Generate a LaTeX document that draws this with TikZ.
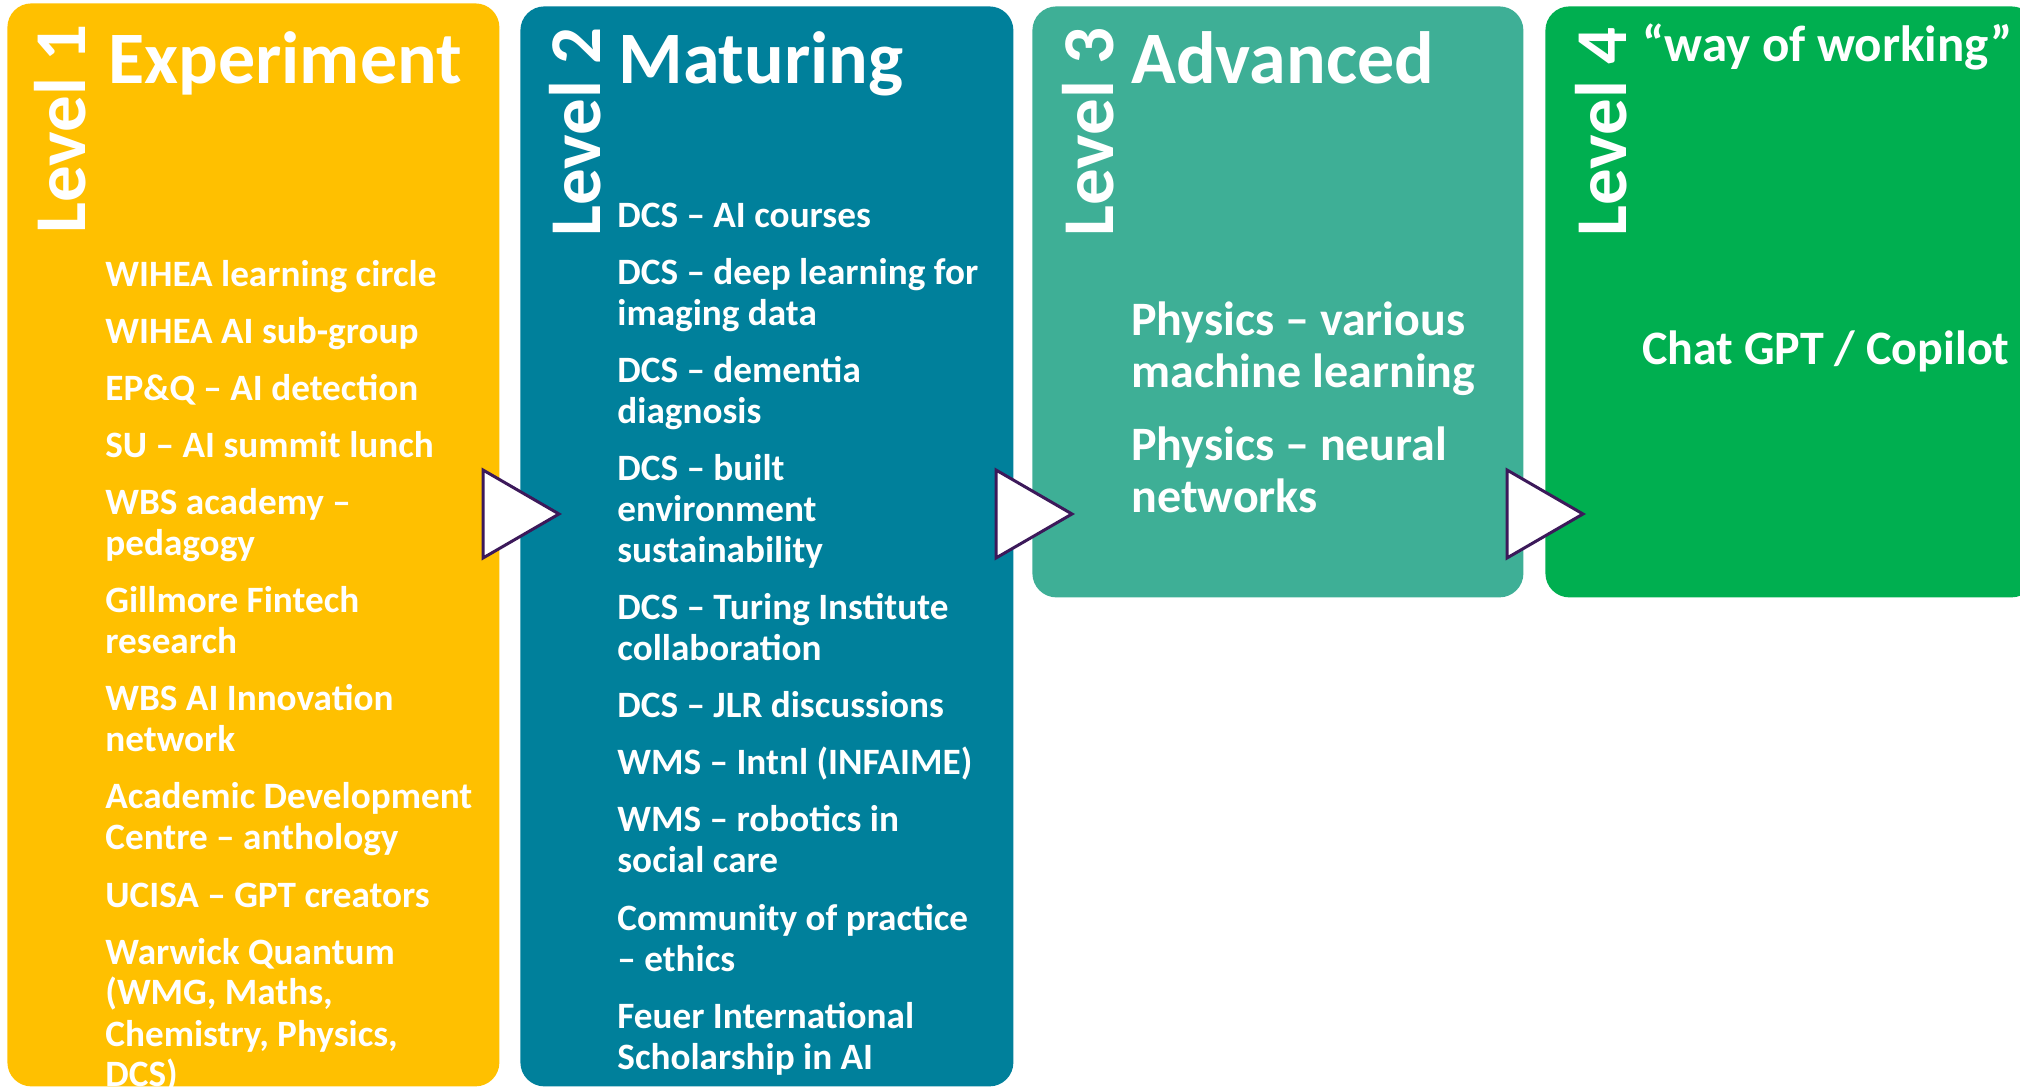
\documentclass[tikz,border=0pt]{standalone}
\usepackage{fontspec}
\setmainfont{Carlito}
\definecolor{lvlone}{RGB}{255,192,0}
\definecolor{lvltwo}{RGB}{0,128,155}
\definecolor{lvlthree}{RGB}{62,175,150}
\definecolor{lvlfour}{RGB}{0,175,80}
\definecolor{chevron}{RGB}{60,25,90}
% multi-line entry whose baseline is the baseline of its first line
\newcommand\entrylines[1]{\begin{tabular}[t]{@{}l@{}}#1\end{tabular}}
\begin{document}
\begin{tikzpicture}[x=0.5pt,y=-0.5pt,
  stage/.style={draw=none, rounded corners=12pt, inner sep=0, anchor=north west},
  levellabel/.style={rotate=90, anchor=base west, inner sep=0, text=white,
    font=\bfseries\fontsize{36.5}{40}\selectfont},
  heading/.style={anchor=base west, inner sep=0, text=white,
    font=\bfseries\fontsize{37}{40}\selectfont},
  lines/.style={anchor=base west, inner sep=0, text=white},
  item/.style={lines, font=\bfseries\fontsize{18.6}{20.5}\selectfont},
  bigitem/.style={lines, font=\bfseries\fontsize{24}{26}\selectfont},
  chev/.style={fill=white, draw=chevron, line width=1.5pt, line join=miter}
]
\useasboundingbox (0,0) rectangle (2020,1090);

% the four stages
\node[stage, fill=lvlone,   minimum width=246pt,   minimum height=541.5pt] (s1) at (7,3) {};
\node[stage, fill=lvltwo,   minimum width=246.5pt, minimum height=540pt]   (s2) at (520,6) {};
\node[stage, fill=lvlthree, minimum width=245.5pt, minimum height=295.5pt] (s3) at (1032,6) {};
\node[stage, fill=lvlfour,  minimum width=245pt,   minimum height=295.5pt] (s4) at (1545,6) {};

% chevrons between stages
\draw[chev] (483,470) -- (483,558) -- (559,514) -- cycle;
\draw[chev] (996,470) -- (996,558) -- (1072,514) -- cycle;
\draw[chev] (1507,470) -- (1507,558) -- (1583,514) -- cycle;

% level labels and headings
\node[levellabel] (l1) at (85,234) {Level 1};
\node[levellabel] (l2) at (600,237) {Level 2};
\node[levellabel] (l3) at (1113,237) {Level 3};
\node[levellabel] (l4) at (1626,237) {Level 4};

\node[heading] (h1) at (108,84) {Experiment};
\node[heading] (h2) at (618,84) {Maturing};
\node[heading] (h3) at (1131,84) {Advanced};
\node[heading, font=\bfseries\fontsize{25.5}{28}\selectfont] (h4) at (1642,62) {“way of working”};

% level 1
\node[item] (a1)  at (105,287) {WIHEA learning circle};
\node[item] (a2)  at (105,344) {WIHEA AI sub-group};
\node[item] (a3)  at (105,401) {EP\&Q – AI detection};
\node[item] (a4)  at (105,458) {SU – AI summit lunch};
\node[item] (a5)  at (105,515) {\entrylines{WBS academy –\\pedagogy}};
\node[item] (a6)  at (105,613) {\entrylines{Gillmore Fintech\\research}};
\node[item] (a7)  at (105,711) {\entrylines{WBS AI Innovation\\network}};
\node[item] (a8)  at (105,809) {\entrylines{Academic Development\\Centre – anthology}};
\node[item] (a9)  at (105,907) {UCISA – GPT creators};
\node[item] (a10) at (105,964) {\entrylines{Warwick Quantum\\(WMG, Maths,\\Chemistry, Physics,\\DCS)}};

% level 2
\node[item] (b1)  at (617,228) {DCS – AI courses};
\node[item] (b2)  at (617,285) {\entrylines{DCS – deep learning for\\imaging data}};
\node[item] (b3)  at (617,383) {\entrylines{DCS – dementia\\diagnosis}};
\node[item] (b4)  at (617,481) {\entrylines{DCS – built\\environment\\sustainability}};
\node[item] (b5)  at (617,620) {\entrylines{DCS – Turing Institute\\collaboration}};
\node[item] (b6)  at (617,718) {DCS – JLR discussions};
\node[item] (b7)  at (617,775) {WMS – Intnl (INFAIME)};
\node[item] (b8)  at (617,832) {\entrylines{WMS – robotics in\\social care}};
\node[item] (b9)  at (617,930) {\entrylines{Community of practice\\– ethics}};
\node[item] (b10) at (617,1028) {\entrylines{Feuer International\\Scholarship in AI}};

% level 3
\node[bigitem] (c1) at (1131,336) {\entrylines{Physics – various\\machine learning}};
\node[bigitem] (c2) at (1131,461) {\entrylines{Physics – neural\\networks}};

% level 4
\node[bigitem, font=\bfseries\fontsize{24}{28}\selectfont] (d1) at (1642,365) {Chat GPT / Copilot};
\end{tikzpicture}
\end{document}
